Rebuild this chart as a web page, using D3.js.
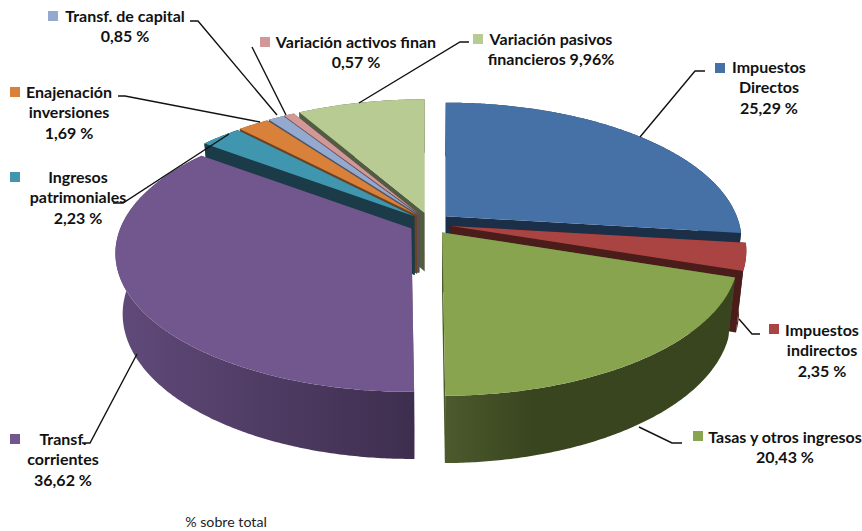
<!DOCTYPE html>
<html><head><meta charset="utf-8">
<script src="https://cdn.jsdelivr.net/npm/d3@7"></script>
<style>
html,body{margin:0;padding:0;background:#fff}
svg{display:block}
text{font-family:Lato,"Open Sans",sans-serif;fill:#111}
.lab{font-weight:700;font-size:16px;text-anchor:middle}
.foot{font-size:14.2px;text-anchor:middle;font-weight:400;fill:#222}
</style></head><body>
<svg id="c" width="862" height="531"></svg>
<script>
// ---- data ----
const categories = ["Impuestos Directos","Impuestos indirectos","Tasas y otros ingresos","Transf. corrientes","Ingresos patrimoniales","Enajenación inversiones","Transf. de capital","Variación activos finan","Variación pasivos financieros"];
const values = [25.29,2.35,20.43,36.62,2.23,1.69,0.85,0.57,9.96];
const valueLabels = ["25,29 %","2,35 %","20,43 %","36,62 %","2,23 %","1,69 %","0,85 %","0,57 %","9,96%"];
// ---- styling ----
const topColors  = ["#4571a6","#a94442","#89a44e","#71578d","#4096ae","#d9803a","#93a9d0","#d29897","#b8cb93"];
const wallStart  = ["#1b3048","#4a1c1a","#4c5a2d","#604a7a","#1a3b47","#6d421f","#4a5568","#694b4b","#515c41"];
const wallEnd    = ["#1b3048","#4a1c1a","#39451f","#3e2e4e","#1a3b47","#6d421f","#4a5568","#694b4b","#515c41"];
// ---- label layout (separate from the data) ----
const labelLines = [
  [["Impuestos","Directos","25,29 %"],769,73],
  [["Impuestos","indirectos","2,35 %"],822,336],
  [["Tasas y otros ingresos","20,43 %"],785,443],
  [["Transf.","corrientes","36,62 %"],63,445],
  [["Ingresos","patrimoniales","2,23 %"],78,183],
  [["Enajenación","inversiones","1,69 %"],69,98],
  [["Transf. de capital","0,85 %"],125,22],
  [["Variación activos finan","0,57 %"],356,48],
  [["Variación pasivos","financieros 9,96%"],551,45]
];
const swatches = [[715,63],[769,324],[693,431],[10,434],[10,172],[10,87],[48,11],[260,37],[473,34]];
const leaders = [
  [[705,71],[695,71],[640,137]],
  [[760,334],[752,334],[739,319]],
  [[682,443],[672,443],[639,427]],
  [[82,443],[90,443],[137,354]],
  [[113,203],[123,203],[229,134]],
  [[118,96],[125,96],[260,122]],
  [[190,21],[198,21],[277,115]],
  [[252,47],[286,115]],
  [[469,42],[460,42],[359,103]]
];
// ---- projection of the tilted disc ----
const cx=430, cy=223.5, a=291, b=134, k=0.18, exX=21, exY=11, vx=430, sink=0.977;
// Excel's 3-D view distorts angles: share-angle to drawn-angle
const warp = d3.scaleLinear().domain([0,91,99.5,173,173.1,305,324,360]).range([0,97,108.5,178.5,180,307,330,360]);
const rad = d=>d*Math.PI/180;
function proj(t){ const X=Math.sin(t),Z=Math.cos(t),s=1/(1+k*Z); return [a*X*s,-b*Z*s]; }
function lower(p){ const D=59+(p[1]-220)*0.047; return [vx+(p[0]-vx)*sink,p[1]+D]; }

const svg=d3.select("#c"), defs=svg.append("defs");
const pie=d3.pie().sort(null).value(d=>d).startAngle(0).endAngle(2*Math.PI);
const arcs=pie(values);
const line=d3.line();
const slices=arcs.map((d,i)=>{
  const t0=warp(d.startAngle*180/Math.PI), t1=warp(d.endAngle*180/Math.PI), mid=rad((t0+t1)/2);
  const apex=[cx+exX*Math.sin(mid), cy-exY*Math.cos(mid)];
  const ts=d3.range(t0,t1,0.5).concat([t1]);
  const rim=ts.map(t=>{const p=proj(rad(t));return [apex[0]+p[0],apex[1]+p[1]];});
  return {i,apex,rim,low:rim.map(lower),lowApex:lower(apex)};
});
// painter's order: back slices first, front last
const order=[8,0,7,6,5,4,3,1,2];
order.forEach(i=>{
  const s=slices[i], g=svg.append("g");
  const [x0,x1]=d3.extent(s.rim,p=>p[0]);
  const id="w"+i;
  const lg=defs.append("linearGradient").attr("id",id).attr("gradientUnits","userSpaceOnUse")
    .attr("x1",x0).attr("x2",x1).attr("y1",0).attr("y2",0);
  if(i===2){ lg.append("stop").attr("offset",0).attr("stop-color",wallStart[i]);
    lg.append("stop").attr("offset",0.3).attr("stop-color",wallEnd[i]);
    lg.append("stop").attr("offset",1).attr("stop-color",wallEnd[i]); }
  else { lg.append("stop").attr("offset",0).attr("stop-color",wallStart[i]);
    lg.append("stop").attr("offset",1).attr("stop-color",wallEnd[i]); }
  const first=s.rim[0], last=s.rim[s.rim.length-1];
  const lf=s.low[0], ll=s.low[s.low.length-1];
  // cut faces
  g.append("path").attr("d",line([s.apex,first,lf,s.lowApex])+"Z").attr("fill",wallStart[i]);
  g.append("path").attr("d",line([s.apex,last,ll,s.lowApex])+"Z").attr("fill",wallStart[i]);
  // outer wall
  g.append("path").attr("d",line(s.rim.concat(s.low.slice().reverse()))+"Z").attr("fill",`url(#${id})`);
  // top
  g.append("path").attr("d",line([s.apex].concat(s.rim))+"Z").attr("fill",topColors[i]);
});
// leaders
svg.append("g").selectAll("path").data(leaders).join("path")
  .attr("d",d=>line(d)).attr("fill","none").attr("stroke","#111").attr("stroke-width",1.4);
// swatches
svg.append("g").selectAll("rect").data(swatches).join("rect")
  .attr("x",d=>d[0]).attr("y",d=>d[1]).attr("width",10).attr("height",10)
  .attr("fill",(d,i)=>topColors[i]);
// labels
labelLines.forEach(([lines,x,y])=>{
  lines.forEach((t,j)=>svg.append("text").attr("class","lab").attr("x",x).attr("y",y+j*20.3).text(t));
});
svg.append("text").attr("class","foot").attr("x",226).attr("y",527).text("% sobre total");
</script>
</body></html>
